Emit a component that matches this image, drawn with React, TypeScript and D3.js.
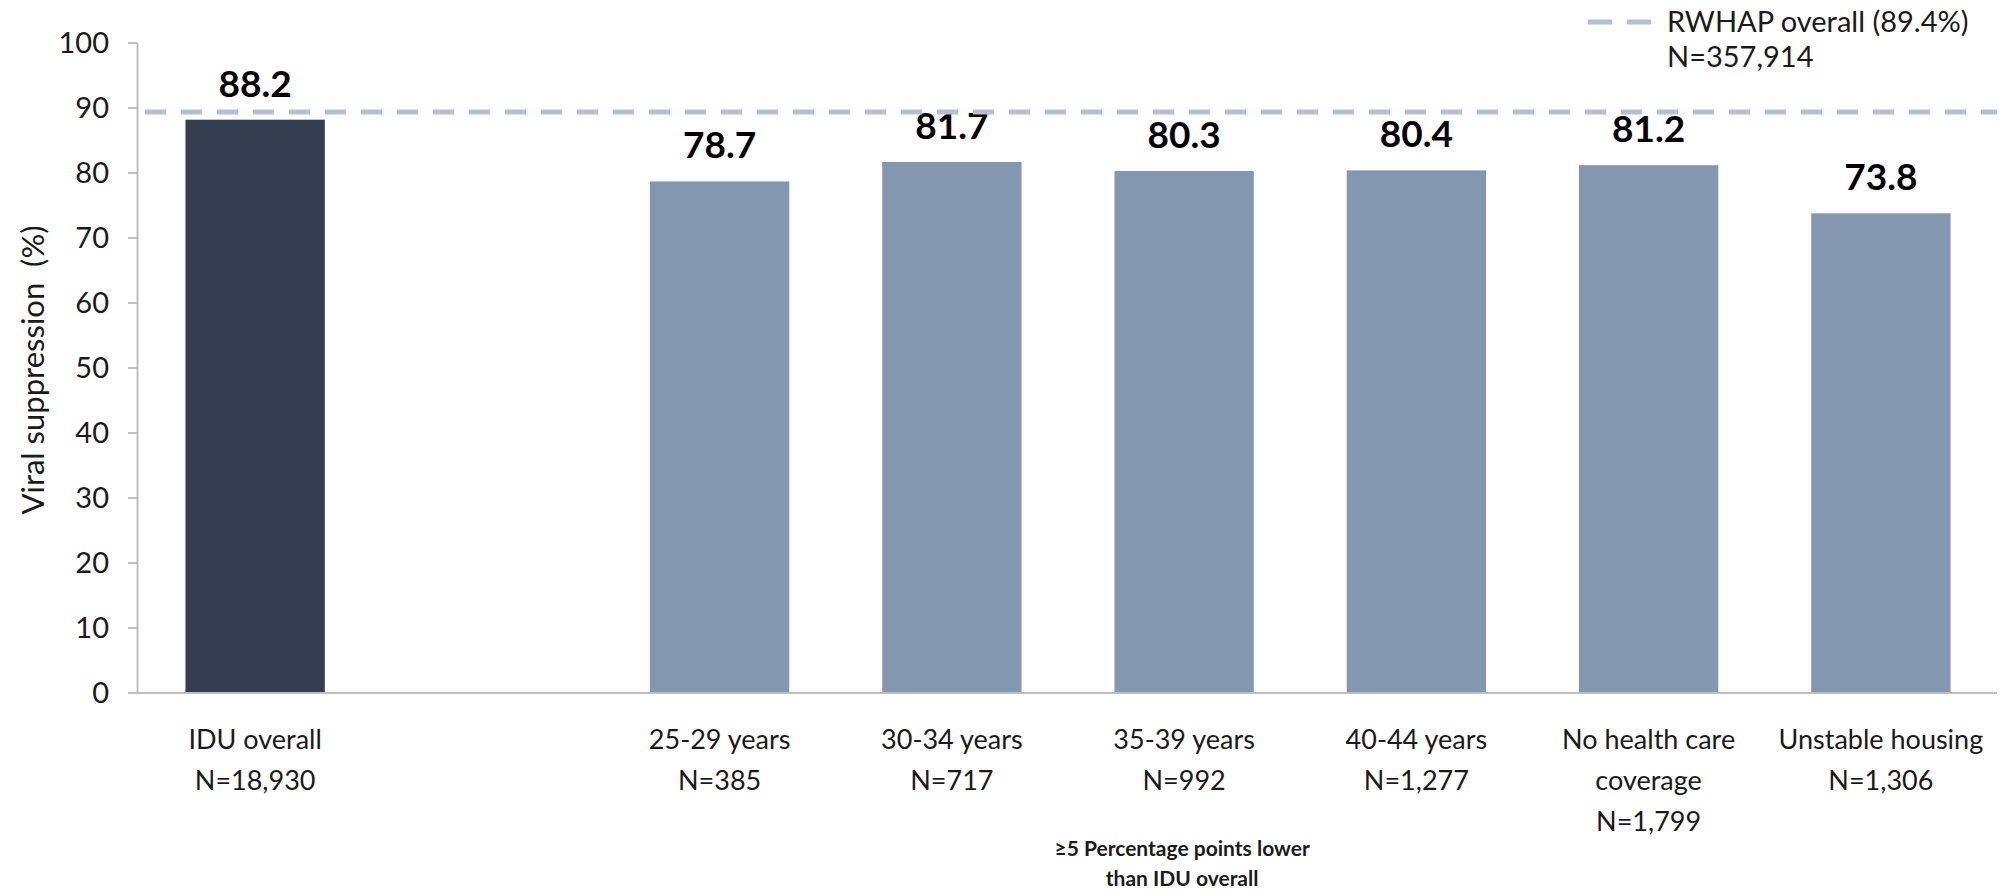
import React from "react";
import * as d3 from "d3";

// Category slots along the x axis (the empty slot separates the overall bar from the subgroups)
const categoryKeys = ["idu", "gap", "a25", "a30", "a35", "a40", "nohc", "house"];
const categoryLines: string[][] = [
  ["IDU overall", "N=18,930"],
  [],
  ["25-29 years", "N=385"],
  ["30-34 years", "N=717"],
  ["35-39 years", "N=992"],
  ["40-44 years", "N=1,277"],
  ["No health care", "coverage", "N=1,799"],
  ["Unstable housing", "N=1,306"],
];
const suppression: (number | null)[] = [88.2, null, 78.7, 81.7, 80.3, 80.4, 81.2, 73.8];
const isOverall = [true, false, false, false, false, false, false, false];

const yTicks = [0, 10, 20, 30, 40, 50, 60, 70, 80, 90, 100];
const referenceValue = 89.4;
const legendLines = ["RWHAP overall (89.4%)", "N=357,914"];
const groupNote = ["≥5 Percentage points lower", "than IDU overall"];

const W = 2007;
const H = 895;
const FONT = "Lato, 'Open Sans', sans-serif";

export default function App() {
  const plotLeft = 139;
  const plotRight = 1997;
  const plotTop = 43;
  const plotBottom = 693;

  const x = d3
    .scaleBand<string>()
    .domain(categoryKeys)
    .range([plotLeft, plotRight])
    .paddingInner(0.4)
    .paddingOuter(0.2);
  const y = d3.scaleLinear().domain([0, 100]).range([plotBottom, plotTop]);

  const axisColor = "#bfbfbf";
  const dashColor = "#b4c0d1";
  const darkBar = "#343e50";
  const lightBar = "#8497b0";

  const noteCenter = (x("a35")! + x.bandwidth() / 2) - 2;

  return (
    <svg
      width={W}
      height={H}
      style={{ position: "absolute", left: 0, top: 0, display: "block", background: "#fff" }}
      fontFamily={FONT}
    >
      {/* y axis */}
      <line x1={plotLeft - 1.5} x2={plotLeft - 1.5} y1={y(100)} y2={plotBottom} stroke={axisColor} strokeWidth={2} />
      {yTicks.map((t) => (
        <g key={t}>
          <line x1={plotLeft - 11} x2={plotLeft - 1.5} y1={y(t)} y2={y(t)} stroke={axisColor} strokeWidth={2} />
          <text x={plotLeft - 30} y={y(t)} dy="0.36em" textAnchor="end" fontSize={29} fill="#1a1a1a">
            {t}
          </text>
        </g>
      ))}
      <text
        transform={`translate(33, 370) rotate(-90)`}
        textAnchor="middle"
        dy="0.35em"
        fontSize={31}
        fill="#1a1a1a"
        style={{ whiteSpace: "pre" }}
      >
        {"Viral suppression  (%)"}
      </text>

      {/* bars */}
      {categoryKeys.map((k, i) => {
        const v = suppression[i];
        if (v == null) return null;
        const bx = x(k)!;
        return (
          <g key={k}>
            <rect
              x={bx}
              y={y(v)}
              width={x.bandwidth()}
              height={plotBottom - y(v)}
              fill={isOverall[i] ? darkBar : lightBar}
            />
            <text
              x={bx + x.bandwidth() / 2}
              y={y(v) - 23}
              textAnchor="middle"
              fontSize={37}
              fontWeight={700}
              fill="#000"
            >
              {v.toFixed(1)}
            </text>
          </g>
        );
      })}

      {/* x axis */}
      <line x1={plotLeft - 11} x2={plotRight} y1={plotBottom} y2={plotBottom} stroke={axisColor} strokeWidth={2} />

      {/* reference line */}
      <line
        x1={plotLeft + 6}
        x2={plotRight}
        y1={y(referenceValue)}
        y2={y(referenceValue)}
        stroke={dashColor}
        strokeWidth={5}
        strokeDasharray="21 15"
      />

      {/* category labels */}
      {categoryKeys.map((k, i) => (
        <g key={`lab-${k}`}>
          {categoryLines[i].map((line, j) => (
            <text
              key={j}
              x={x(k)! + x.bandwidth() / 2}
              y={740 + j * 41}
              dy="0.35em"
              textAnchor="middle"
              fontSize={27}
              fill="#1a1a1a"
            >
              {line}
            </text>
          ))}
        </g>
      ))}

      {/* subgroup note */}
      {groupNote.map((line, j) => (
        <text
          key={j}
          x={noteCenter}
          y={849 + j * 30}
          dy="0.35em"
          textAnchor="middle"
          fontSize={21}
          fontWeight={700}
          fill="#1a1a1a"
        >
          {line}
        </text>
      ))}

      {/* legend */}
      <line x1={1588} x2={1651} y1={22} y2={22} stroke={dashColor} strokeWidth={5} strokeDasharray="24 15" />
      {legendLines.map((line, j) => (
        <text key={j} x={1667} y={22 + j * 35} dy="0.35em" fontSize={29} fill="#1a1a1a">
          {line}
        </text>
      ))}
    </svg>
  );
}
